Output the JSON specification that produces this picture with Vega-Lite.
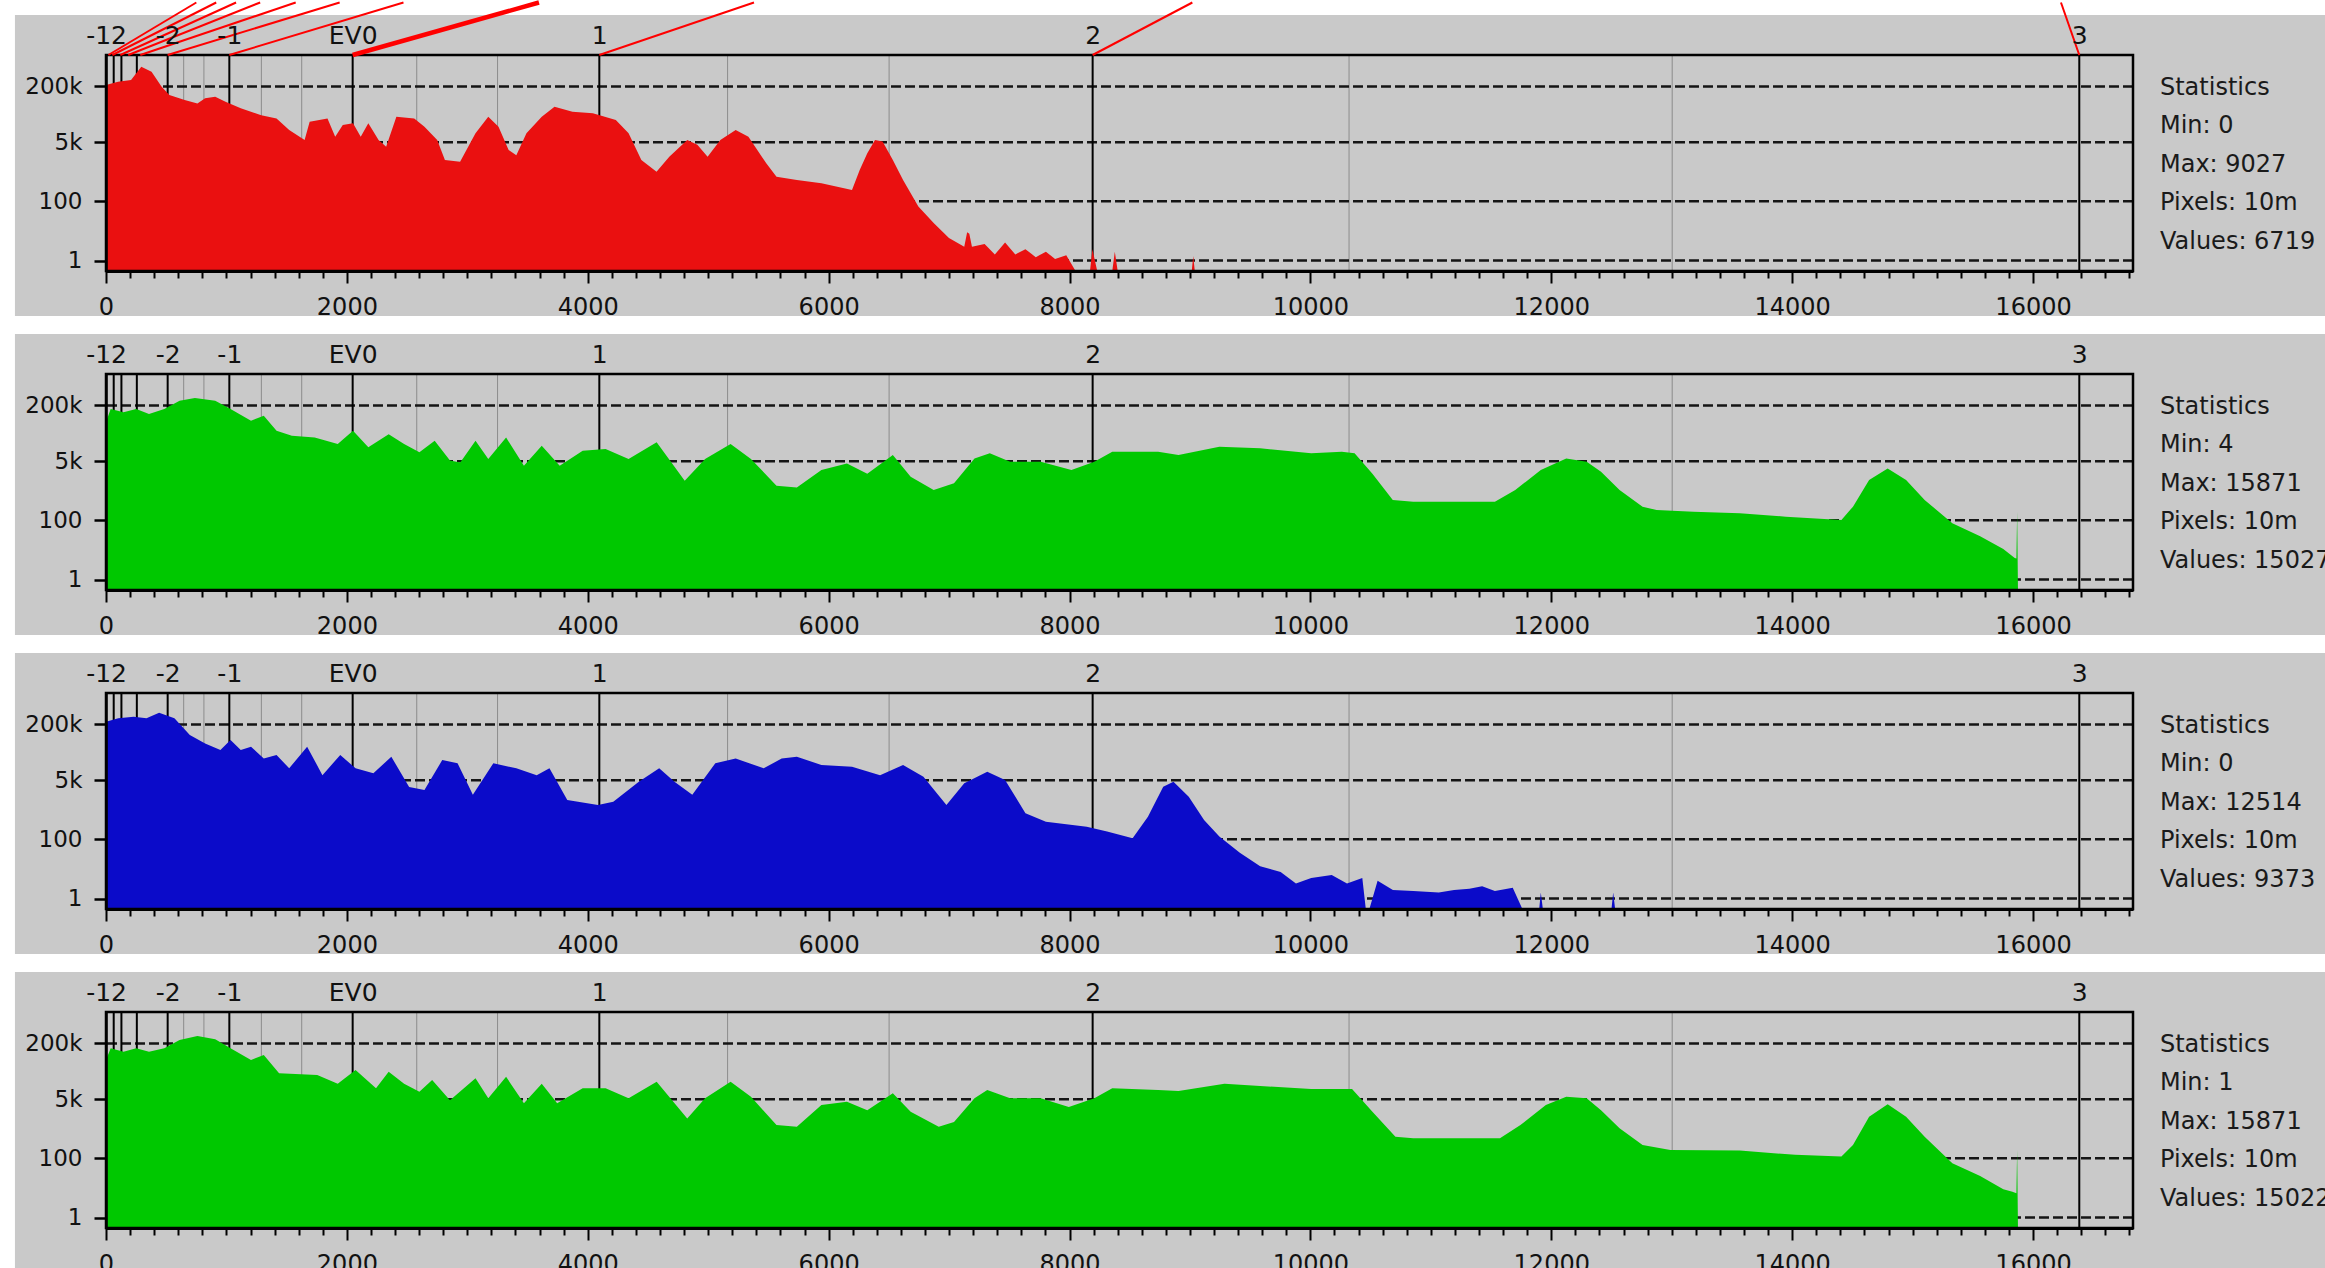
{
  "$schema": "https://vega.github.io/schema/vega-lite/v6.json",
  "background": "white",
  "padding": {"left": 14, "top": 0, "right": 0, "bottom": 0},
  "spacing": 103,
  "bounds": "flush",
  "config": {
    "view": {"stroke": null},
    "font": "DejaVu Sans",
    "axis": {"labelFont": "DejaVu Sans", "labelColor": "#111111", "domainColor": "#000000", "tickColor": "#000000", "grid": false}
  },
  "datasets": {
    "minor": [{"v": 645}, {"v": 813}, {"v": 1290}, {"v": 1625}, {"v": 2580}, {"v": 3251}, {"v": 5161}, {"v": 6502}, {"v": 10321}, {"v": 13004}],
    "ygrid": [{"v": 1}, {"v": 100}, {"v": 5000}, {"v": 200000}],
    "ev": [{"v": 64}, {"v": 128}, {"v": 256}, {"v": 512}, {"v": 1024}, {"v": 2048}, {"v": 4096}, {"v": 8192}, {"v": 16384}],
    "red": [
      {"stop": "-6", "from": 20, "to": 750},
      {"stop": "-5", "from": 53, "to": 915},
      {"stop": "-4", "from": 119, "to": 1080},
      {"stop": "-3b", "from": 185, "to": 1280},
      {"stop": "-3", "from": 285, "to": 1575},
      {"stop": "-2", "from": 512, "to": 1940},
      {"stop": "-1", "from": 1024, "to": 2470},
      {"stop": "EV0", "from": 2048, "to": 3595},
      {"stop": "1", "from": 4096, "to": 5380},
      {"stop": "2", "from": 8192, "to": 9020},
      {"stop": "3", "from": 16384, "to": 16232}
    ],
    "stats1": [{"t": "Statistics\nMin: 0\nMax: 9027\nPixels: 10m\nValues: 6719"}],
    "stats2": [{"t": "Statistics\nMin: 4\nMax: 15871\nPixels: 10m\nValues: 15027"}],
    "stats3": [{"t": "Statistics\nMin: 0\nMax: 12514\nPixels: 10m\nValues: 9373"}],
    "stats4": [{"t": "Statistics\nMin: 1\nMax: 15871\nPixels: 10m\nValues: 15022"}],
    "hist1": [
      {"x": 0, "c": 220000}, {"x": 100, "c": 273000}, {"x": 208, "c": 306000}, {"x": 293, "c": 737000}, {"x": 378, "c": 530000},
      {"x": 462, "c": 196000}, {"x": 526, "c": 113000}, {"x": 653, "c": 81000}, {"x": 759, "c": 65000}, {"x": 823, "c": 91000},
      {"x": 907, "c": 101000}, {"x": 992, "c": 73000}, {"x": 1119, "c": 47000}, {"x": 1289, "c": 30000}, {"x": 1416, "c": 24000},
      {"x": 1521, "c": 11200}, {"x": 1649, "c": 5800}, {"x": 1691, "c": 19400}, {"x": 1839, "c": 24000}, {"x": 1903, "c": 7200},
      {"x": 1966, "c": 15600}, {"x": 2051, "c": 17500}, {"x": 2115, "c": 7200}, {"x": 2178, "c": 17500}, {"x": 2263, "c": 5800},
      {"x": 2326, "c": 3700}, {"x": 2411, "c": 27000}, {"x": 2559, "c": 24000}, {"x": 2644, "c": 13900}, {"x": 2750, "c": 5800},
      {"x": 2814, "c": 1540}, {"x": 2940, "c": 1380}, {"x": 3068, "c": 9000}, {"x": 3174, "c": 27000}, {"x": 3259, "c": 13900},
      {"x": 3343, "c": 3000}, {"x": 3407, "c": 2100}, {"x": 3491, "c": 9000}, {"x": 3618, "c": 27000}, {"x": 3724, "c": 52000},
      {"x": 3873, "c": 37600}, {"x": 4042, "c": 33800}, {"x": 4233, "c": 21700}, {"x": 4339, "c": 9000}, {"x": 4445, "c": 1540},
      {"x": 4571, "c": 711}, {"x": 4677, "c": 1900}, {"x": 4826, "c": 5800}, {"x": 4910, "c": 4200}, {"x": 4995, "c": 1900},
      {"x": 5101, "c": 5800}, {"x": 5228, "c": 11200}, {"x": 5334, "c": 7200}, {"x": 5482, "c": 1240}, {"x": 5567, "c": 511},
      {"x": 5736, "c": 410}, {"x": 5940, "c": 330}, {"x": 6194, "c": 212}, {"x": 6258, "c": 795}, {"x": 6321, "c": 2400},
      {"x": 6385, "c": 5800}, {"x": 6448, "c": 5200}, {"x": 6533, "c": 1540}, {"x": 6618, "c": 410}, {"x": 6745, "c": 70},
      {"x": 6872, "c": 23}, {"x": 6999, "c": 7.8}, {"x": 7126, "c": 4}, {"x": 7150, "c": 12}, {"x": 7168, "c": 10.8},
      {"x": 7190, "c": 4}, {"x": 7295, "c": 5}, {"x": 7380, "c": 2}, {"x": 7465, "c": 5.6}, {"x": 7550, "c": 2},
      {"x": 7634, "c": 3.2}, {"x": 7720, "c": 1.5}, {"x": 7804, "c": 2.6}, {"x": 7880, "c": 1.2}, {"x": 7973, "c": 1.85},
      {"x": 8050, "c": 0}, {"x": 8170, "c": 0}, {"x": 8190, "c": 3.2}, {"x": 8230, "c": 0}, {"x": 8355, "c": 0},
      {"x": 8376, "c": 2.6}, {"x": 8400, "c": 0}, {"x": 9015, "c": 0}, {"x": 9027, "c": 1.7}, {"x": 9040, "c": 0}
    ],
    "hist2": [
      {"x": 0, "c": 67000}, {"x": 39, "c": 158000}, {"x": 145, "c": 127000}, {"x": 251, "c": 158000}, {"x": 357, "c": 113000},
      {"x": 484, "c": 158000}, {"x": 611, "c": 273000}, {"x": 738, "c": 327000}, {"x": 907, "c": 273000}, {"x": 1034, "c": 158000},
      {"x": 1204, "c": 73000}, {"x": 1310, "c": 101000}, {"x": 1416, "c": 37600}, {"x": 1543, "c": 27000}, {"x": 1733, "c": 24000},
      {"x": 1924, "c": 15600}, {"x": 2051, "c": 37600}, {"x": 2178, "c": 12500}, {"x": 2347, "c": 30000}, {"x": 2475, "c": 15600},
      {"x": 2602, "c": 9000}, {"x": 2729, "c": 19400}, {"x": 2856, "c": 5200}, {"x": 2941, "c": 4600}, {"x": 3068, "c": 19400},
      {"x": 3174, "c": 5800}, {"x": 3322, "c": 24000}, {"x": 3470, "c": 3700}, {"x": 3618, "c": 13900}, {"x": 3767, "c": 3700},
      {"x": 3958, "c": 10000}, {"x": 4148, "c": 11200}, {"x": 4339, "c": 5800}, {"x": 4572, "c": 17500}, {"x": 4805, "c": 1380},
      {"x": 4974, "c": 5800}, {"x": 5186, "c": 15600}, {"x": 5355, "c": 5800}, {"x": 5567, "c": 990}, {"x": 5736, "c": 880},
      {"x": 5940, "c": 2800}, {"x": 6152, "c": 4300}, {"x": 6321, "c": 2200}, {"x": 6533, "c": 7500}, {"x": 6681, "c": 1800},
      {"x": 6872, "c": 745}, {"x": 7041, "c": 1160}, {"x": 7211, "c": 6000}, {"x": 7338, "c": 8400}, {"x": 7507, "c": 4800},
      {"x": 7761, "c": 4800}, {"x": 8016, "c": 2800}, {"x": 8206, "c": 4800}, {"x": 8355, "c": 9400}, {"x": 8736, "c": 9400},
      {"x": 8905, "c": 7500}, {"x": 9244, "c": 13000}, {"x": 9583, "c": 11700}, {"x": 10007, "c": 8400}, {"x": 10261, "c": 9400},
      {"x": 10367, "c": 8400}, {"x": 10515, "c": 2200}, {"x": 10684, "c": 384}, {"x": 10854, "c": 340}, {"x": 11532, "c": 340},
      {"x": 11701, "c": 745}, {"x": 11913, "c": 2800}, {"x": 12124, "c": 6000}, {"x": 12294, "c": 4800}, {"x": 12413, "c": 2500},
      {"x": 12567, "c": 745}, {"x": 12758, "c": 247}, {"x": 12874, "c": 199}, {"x": 13181, "c": 177}, {"x": 13565, "c": 158},
      {"x": 13948, "c": 127}, {"x": 14409, "c": 102}, {"x": 14505, "c": 247}, {"x": 14639, "c": 1440}, {"x": 14793, "c": 3100},
      {"x": 14946, "c": 1440}, {"x": 15100, "c": 384}, {"x": 15330, "c": 82}, {"x": 15561, "c": 34}, {"x": 15753, "c": 14},
      {"x": 15848, "c": 7.3}, {"x": 15862, "c": 7}, {"x": 15868, "c": 177}, {"x": 15875, "c": 0}
    ],
    "hist3": [
      {"x": 0, "c": 240000}, {"x": 102, "c": 300000}, {"x": 230, "c": 333000}, {"x": 336, "c": 300000}, {"x": 441, "c": 434000},
      {"x": 568, "c": 300000}, {"x": 696, "c": 99000}, {"x": 823, "c": 57000}, {"x": 950, "c": 37000}, {"x": 1034, "c": 71000},
      {"x": 1119, "c": 37000}, {"x": 1204, "c": 46000}, {"x": 1310, "c": 21000}, {"x": 1416, "c": 26500}, {"x": 1521, "c": 11000},
      {"x": 1670, "c": 46000}, {"x": 1797, "c": 7000}, {"x": 1945, "c": 26500}, {"x": 2072, "c": 11000}, {"x": 2220, "c": 7900},
      {"x": 2369, "c": 23600}, {"x": 2517, "c": 3200}, {"x": 2644, "c": 2600}, {"x": 2792, "c": 19000}, {"x": 2919, "c": 15300},
      {"x": 3046, "c": 1900}, {"x": 3216, "c": 15300}, {"x": 3407, "c": 11000}, {"x": 3576, "c": 7000}, {"x": 3682, "c": 11000},
      {"x": 3830, "c": 1350}, {"x": 4085, "c": 970}, {"x": 4212, "c": 1200}, {"x": 4424, "c": 4500}, {"x": 4593, "c": 11000},
      {"x": 4720, "c": 4500}, {"x": 4868, "c": 1900}, {"x": 5059, "c": 15300}, {"x": 5228, "c": 21000}, {"x": 5461, "c": 11000},
      {"x": 5610, "c": 21000}, {"x": 5736, "c": 23600}, {"x": 5940, "c": 13700}, {"x": 6194, "c": 12200}, {"x": 6427, "c": 7000},
      {"x": 6618, "c": 13700}, {"x": 6787, "c": 6300}, {"x": 6978, "c": 970}, {"x": 7126, "c": 4100}, {"x": 7317, "c": 8800},
      {"x": 7465, "c": 5100}, {"x": 7634, "c": 560}, {"x": 7804, "c": 322}, {"x": 8143, "c": 231}, {"x": 8312, "c": 166},
      {"x": 8524, "c": 107}, {"x": 8651, "c": 448}, {"x": 8778, "c": 3250}, {"x": 8863, "c": 4500}, {"x": 8990, "c": 1680},
      {"x": 9117, "c": 360}, {"x": 9244, "c": 119}, {"x": 9414, "c": 40}, {"x": 9583, "c": 16}, {"x": 9753, "c": 10.6},
      {"x": 9880, "c": 4.4}, {"x": 10007, "c": 6.8}, {"x": 10177, "c": 8.5}, {"x": 10304, "c": 4.4}, {"x": 10431, "c": 6.8},
      {"x": 10460, "c": 0}, {"x": 10490, "c": 0}, {"x": 10558, "c": 5.5}, {"x": 10685, "c": 2.5}, {"x": 10854, "c": 2.3},
      {"x": 11066, "c": 2}, {"x": 11193, "c": 2.5}, {"x": 11320, "c": 2.8}, {"x": 11426, "c": 3.5}, {"x": 11532, "c": 2.3},
      {"x": 11680, "c": 3.1}, {"x": 11760, "c": 0}, {"x": 11900, "c": 0}, {"x": 11913, "c": 2}, {"x": 11930, "c": 0},
      {"x": 12500, "c": 0}, {"x": 12514, "c": 2}, {"x": 12530, "c": 0}
    ],
    "hist4": [
      {"x": 0, "c": 67000}, {"x": 39, "c": 145000}, {"x": 145, "c": 116000}, {"x": 251, "c": 145000}, {"x": 357, "c": 116000},
      {"x": 484, "c": 145000}, {"x": 611, "c": 250000}, {"x": 759, "c": 327000}, {"x": 907, "c": 265000}, {"x": 1034, "c": 145000},
      {"x": 1204, "c": 67000}, {"x": 1310, "c": 93000}, {"x": 1437, "c": 28000}, {"x": 1754, "c": 25000}, {"x": 1924, "c": 14000},
      {"x": 2072, "c": 34500}, {"x": 2242, "c": 10300}, {"x": 2347, "c": 30800}, {"x": 2475, "c": 14000}, {"x": 2602, "c": 8200},
      {"x": 2708, "c": 17800}, {"x": 2856, "c": 4700}, {"x": 3068, "c": 20000}, {"x": 3174, "c": 5300}, {"x": 3322, "c": 22000},
      {"x": 3470, "c": 3800}, {"x": 3618, "c": 14000}, {"x": 3746, "c": 3800}, {"x": 3958, "c": 10300}, {"x": 4148, "c": 10300},
      {"x": 4339, "c": 5300}, {"x": 4572, "c": 16000}, {"x": 4826, "c": 1400}, {"x": 4974, "c": 5300}, {"x": 5186, "c": 16000},
      {"x": 5355, "c": 5900}, {"x": 5567, "c": 908}, {"x": 5736, "c": 811}, {"x": 5940, "c": 3400}, {"x": 6152, "c": 4200},
      {"x": 6321, "c": 2400}, {"x": 6533, "c": 7400}, {"x": 6681, "c": 2200}, {"x": 6914, "c": 811}, {"x": 7041, "c": 1100},
      {"x": 7211, "c": 5300}, {"x": 7317, "c": 9200}, {"x": 7507, "c": 5300}, {"x": 7761, "c": 5300}, {"x": 7994, "c": 3000},
      {"x": 8206, "c": 5300}, {"x": 8355, "c": 10300}, {"x": 8736, "c": 9200}, {"x": 8905, "c": 8600}, {"x": 9287, "c": 14000},
      {"x": 9583, "c": 12000}, {"x": 10007, "c": 9800}, {"x": 10346, "c": 9800}, {"x": 10515, "c": 2200}, {"x": 10706, "c": 419},
      {"x": 10854, "c": 375}, {"x": 11574, "c": 375}, {"x": 11744, "c": 908}, {"x": 11955, "c": 3400}, {"x": 12124, "c": 5900},
      {"x": 12294, "c": 5300}, {"x": 12413, "c": 2400}, {"x": 12567, "c": 730}, {"x": 12758, "c": 242}, {"x": 12989, "c": 174},
      {"x": 13565, "c": 166}, {"x": 14025, "c": 125}, {"x": 14409, "c": 112}, {"x": 14505, "c": 242}, {"x": 14639, "c": 1570},
      {"x": 14793, "c": 3600}, {"x": 14946, "c": 1570}, {"x": 15100, "c": 419}, {"x": 15330, "c": 72}, {"x": 15561, "c": 30},
      {"x": 15753, "c": 12}, {"x": 15829, "c": 10}, {"x": 15862, "c": 9}, {"x": 15868, "c": 174}, {"x": 15875, "c": 0}
    ]
  },
  "vconcat": [
    {
      "width": 2027, "height": 216,
      "resolve": {"axis": {"x": "independent", "y": "independent"}},
      "layer": [
        {"data": {"values": [{}]}, "mark": {"type": "rect", "color": "#c9c9c9"},
         "encoding": {"x": {"datum": -756, "type": "quantitative", "scale": {"domain": [0, 16830], "nice": false, "zero": false}, "axis": null}, "x2": {"datum": 18432},
                      "y": {"datum": 22540000, "type": "quantitative", "scale": {"type": "symlog", "constant": 1, "domain": [0, 1600000], "nice": false}, "axis": null}, "y2": {"datum": -18.6}}},
        {"data": {"name": "minor"}, "mark": {"type": "rule", "color": "#8c8c8c", "strokeWidth": 1},
         "encoding": {"x": {"field": "v", "type": "quantitative", "scale": {"domain": [0, 16830], "nice": false, "zero": false}, "axis": null}}},
        {"data": {"name": "ygrid"}, "mark": {"type": "rule", "color": "#151515", "strokeWidth": 2.5, "strokeDash": [10, 4]},
         "encoding": {"y": {"field": "v", "type": "quantitative", "scale": {"type": "symlog", "constant": 1, "domain": [0, 1600000], "nice": false}, "axis": null}}},
        {"data": {"name": "ev"}, "mark": {"type": "rule", "color": "#000000", "strokeWidth": 2},
         "encoding": {"x": {"field": "v", "type": "quantitative", "scale": {"domain": [0, 16830], "nice": false, "zero": false},
           "axis": {"orient": "top", "zindex": 2, "title": null, "values": [0.5, 512, 1024, 2048, 4096, 8192, 16384], "labelExpr": "datum.value < 1 ? '-12' : datum.value == 512 ? '-2' : datum.value == 1024 ? '-1' : datum.value == 2048 ? 'EV0' : datum.value == 4096 ? '1' : datum.value == 8192 ? '2' : '3'", "ticks": false, "tickSize": 0, "domain": false, "labelPadding": 12, "labelFontSize": 25, "labelBaseline": "alphabetic", "labelFlush": false, "labelOverlap": false}}}},
        {"data": {"name": "hist1"}, "mark": {"type": "area", "color": "#ea1010", "interpolate": "linear"},
         "encoding": {"x": {"field": "x", "type": "quantitative", "scale": {"domain": [0, 16830], "nice": false, "zero": false},
           "axis": {"orient": "bottom", "zindex": 2, "title": null, "values": [0,200,400,600,800,1000,1200,1400,1600,1800,2000,2200,2400,2600,2800,3000,3200,3400,3600,3800,4000,4200,4400,4600,4800,5000,5200,5400,5600,5800,6000,6200,6400,6600,6800,7000,7200,7400,7600,7800,8000,8200,8400,8600,8800,9000,9200,9400,9600,9800,10000,10200,10400,10600,10800,11000,11200,11400,11600,11800,12000,12200,12400,12600,12800,13000,13200,13400,13600,13800,14000,14200,14400,14600,14800,15000,15200,15400,15600,15800,16000,16200,16400,16600,16800], "format": "d", "labelExpr": "datum.value % 2000 === 0 ? datum.label : ''", "labelOverlap": false, "labelFlush": false, "tickSize": {"condition": {"test": "datum.value % 2000 === 0", "value": 12}, "value": 7}, "tickWidth": 2, "domainWidth": 3, "labelFontSize": 24, "labelPadding": 12}},
           "y": {"field": "c", "type": "quantitative", "scale": {"type": "symlog", "constant": 1, "domain": [0, 1600000], "nice": false},
           "axis": {"zindex": 2, "title": null, "values": [1, 100, 5000, 200000], "format": "d", "labelExpr": "datum.value >= 1000 ? (datum.value / 1000) + 'k' : datum.label", "tickSize": 12, "tickWidth": 2.5, "domainWidth": 2.5, "labelFontSize": 23, "labelPadding": 12}}}},
        {"data": {"values": [{}]}, "mark": {"type": "rect", "filled": false, "color": "#000000", "strokeWidth": 2.5},
         "encoding": {"x": {"datum": 0, "type": "quantitative", "scale": {"domain": [0, 16830], "nice": false, "zero": false}, "axis": null}, "x2": {"datum": 16830},
                      "y": {"datum": 0, "type": "quantitative", "scale": {"type": "symlog", "constant": 1, "domain": [0, 1600000], "nice": false}, "axis": null}, "y2": {"datum": 1600000}}},
        {"data": {"name": "stats1"}, "mark": {"type": "text", "lineBreak": "\n", "lineHeight": 38.4, "align": "left", "baseline": "alphabetic", "fontSize": 24, "font": "DejaVu Sans", "color": "#1a1a1a"},
         "encoding": {"x": {"datum": 17054, "type": "quantitative", "scale": {"domain": [0, 16830], "nice": false, "zero": false}, "axis": null},
                      "y": {"datum": 113600, "type": "quantitative", "scale": {"type": "symlog", "constant": 1, "domain": [0, 1600000], "nice": false}, "axis": null},
                      "text": {"field": "t", "type": "nominal"}}},
        {"data": {"name": "red"}, "mark": {"type": "rule", "color": "#ff0000"},
         "encoding": {"x": {"field": "from", "type": "quantitative", "scale": {"domain": [0, 16830], "nice": false, "zero": false}, "axis": null}, "x2": {"field": "to"},
                      "y": {"datum": 1600000, "type": "quantitative", "scale": {"type": "symlog", "constant": 1, "domain": [0, 1600000], "nice": false}, "axis": null}, "y2": {"datum": 51550000},
                      "strokeWidth": {"condition": {"test": "datum.stop === 'EV0'", "value": 4.5}, "value": 2}}}
      ]
    },
    {
      "width": 2027, "height": 216,
      "resolve": {"axis": {"x": "independent", "y": "independent"}},
      "layer": [
        {"data": {"values": [{}]}, "mark": {"type": "rect", "color": "#c9c9c9"},
         "encoding": {"x": {"datum": -756, "type": "quantitative", "scale": {"domain": [0, 16830], "nice": false, "zero": false}, "axis": null}, "x2": {"datum": 18432},
                      "y": {"datum": 22540000, "type": "quantitative", "scale": {"type": "symlog", "constant": 1, "domain": [0, 1600000], "nice": false}, "axis": null}, "y2": {"datum": -18.6}}},
        {"data": {"name": "minor"}, "mark": {"type": "rule", "color": "#8c8c8c", "strokeWidth": 1},
         "encoding": {"x": {"field": "v", "type": "quantitative", "scale": {"domain": [0, 16830], "nice": false, "zero": false}, "axis": null}}},
        {"data": {"name": "ygrid"}, "mark": {"type": "rule", "color": "#151515", "strokeWidth": 2.5, "strokeDash": [10, 4]},
         "encoding": {"y": {"field": "v", "type": "quantitative", "scale": {"type": "symlog", "constant": 1, "domain": [0, 1600000], "nice": false}, "axis": null}}},
        {"data": {"name": "ev"}, "mark": {"type": "rule", "color": "#000000", "strokeWidth": 2},
         "encoding": {"x": {"field": "v", "type": "quantitative", "scale": {"domain": [0, 16830], "nice": false, "zero": false},
           "axis": {"orient": "top", "zindex": 2, "title": null, "values": [0.5, 512, 1024, 2048, 4096, 8192, 16384], "labelExpr": "datum.value < 1 ? '-12' : datum.value == 512 ? '-2' : datum.value == 1024 ? '-1' : datum.value == 2048 ? 'EV0' : datum.value == 4096 ? '1' : datum.value == 8192 ? '2' : '3'", "ticks": false, "tickSize": 0, "domain": false, "labelPadding": 12, "labelFontSize": 25, "labelBaseline": "alphabetic", "labelFlush": false, "labelOverlap": false}}}},
        {"data": {"name": "hist2"}, "mark": {"type": "area", "color": "#00c800", "interpolate": "linear"},
         "encoding": {"x": {"field": "x", "type": "quantitative", "scale": {"domain": [0, 16830], "nice": false, "zero": false},
           "axis": {"orient": "bottom", "zindex": 2, "title": null, "values": [0,200,400,600,800,1000,1200,1400,1600,1800,2000,2200,2400,2600,2800,3000,3200,3400,3600,3800,4000,4200,4400,4600,4800,5000,5200,5400,5600,5800,6000,6200,6400,6600,6800,7000,7200,7400,7600,7800,8000,8200,8400,8600,8800,9000,9200,9400,9600,9800,10000,10200,10400,10600,10800,11000,11200,11400,11600,11800,12000,12200,12400,12600,12800,13000,13200,13400,13600,13800,14000,14200,14400,14600,14800,15000,15200,15400,15600,15800,16000,16200,16400,16600,16800], "format": "d", "labelExpr": "datum.value % 2000 === 0 ? datum.label : ''", "labelOverlap": false, "labelFlush": false, "tickSize": {"condition": {"test": "datum.value % 2000 === 0", "value": 12}, "value": 7}, "tickWidth": 2, "domainWidth": 3, "labelFontSize": 24, "labelPadding": 12}},
           "y": {"field": "c", "type": "quantitative", "scale": {"type": "symlog", "constant": 1, "domain": [0, 1600000], "nice": false},
           "axis": {"zindex": 2, "title": null, "values": [1, 100, 5000, 200000], "format": "d", "labelExpr": "datum.value >= 1000 ? (datum.value / 1000) + 'k' : datum.label", "tickSize": 12, "tickWidth": 2.5, "domainWidth": 2.5, "labelFontSize": 23, "labelPadding": 12}}}},
        {"data": {"values": [{}]}, "mark": {"type": "rect", "filled": false, "color": "#000000", "strokeWidth": 2.5},
         "encoding": {"x": {"datum": 0, "type": "quantitative", "scale": {"domain": [0, 16830], "nice": false, "zero": false}, "axis": null}, "x2": {"datum": 16830},
                      "y": {"datum": 0, "type": "quantitative", "scale": {"type": "symlog", "constant": 1, "domain": [0, 1600000], "nice": false}, "axis": null}, "y2": {"datum": 1600000}}},
        {"data": {"name": "stats2"}, "mark": {"type": "text", "lineBreak": "\n", "lineHeight": 38.4, "align": "left", "baseline": "alphabetic", "fontSize": 24, "font": "DejaVu Sans", "color": "#1a1a1a"},
         "encoding": {"x": {"datum": 17054, "type": "quantitative", "scale": {"domain": [0, 16830], "nice": false, "zero": false}, "axis": null},
                      "y": {"datum": 113600, "type": "quantitative", "scale": {"type": "symlog", "constant": 1, "domain": [0, 1600000], "nice": false}, "axis": null},
                      "text": {"field": "t", "type": "nominal"}}}
      ]
    },
    {
      "width": 2027, "height": 216,
      "resolve": {"axis": {"x": "independent", "y": "independent"}},
      "layer": [
        {"data": {"values": [{}]}, "mark": {"type": "rect", "color": "#c9c9c9"},
         "encoding": {"x": {"datum": -756, "type": "quantitative", "scale": {"domain": [0, 16830], "nice": false, "zero": false}, "axis": null}, "x2": {"datum": 18432},
                      "y": {"datum": 22540000, "type": "quantitative", "scale": {"type": "symlog", "constant": 1, "domain": [0, 1600000], "nice": false}, "axis": null}, "y2": {"datum": -18.6}}},
        {"data": {"name": "minor"}, "mark": {"type": "rule", "color": "#8c8c8c", "strokeWidth": 1},
         "encoding": {"x": {"field": "v", "type": "quantitative", "scale": {"domain": [0, 16830], "nice": false, "zero": false}, "axis": null}}},
        {"data": {"name": "ygrid"}, "mark": {"type": "rule", "color": "#151515", "strokeWidth": 2.5, "strokeDash": [10, 4]},
         "encoding": {"y": {"field": "v", "type": "quantitative", "scale": {"type": "symlog", "constant": 1, "domain": [0, 1600000], "nice": false}, "axis": null}}},
        {"data": {"name": "ev"}, "mark": {"type": "rule", "color": "#000000", "strokeWidth": 2},
         "encoding": {"x": {"field": "v", "type": "quantitative", "scale": {"domain": [0, 16830], "nice": false, "zero": false},
           "axis": {"orient": "top", "zindex": 2, "title": null, "values": [0.5, 512, 1024, 2048, 4096, 8192, 16384], "labelExpr": "datum.value < 1 ? '-12' : datum.value == 512 ? '-2' : datum.value == 1024 ? '-1' : datum.value == 2048 ? 'EV0' : datum.value == 4096 ? '1' : datum.value == 8192 ? '2' : '3'", "ticks": false, "tickSize": 0, "domain": false, "labelPadding": 12, "labelFontSize": 25, "labelBaseline": "alphabetic", "labelFlush": false, "labelOverlap": false}}}},
        {"data": {"name": "hist3"}, "mark": {"type": "area", "color": "#0b0bc9", "interpolate": "linear"},
         "encoding": {"x": {"field": "x", "type": "quantitative", "scale": {"domain": [0, 16830], "nice": false, "zero": false},
           "axis": {"orient": "bottom", "zindex": 2, "title": null, "values": [0,200,400,600,800,1000,1200,1400,1600,1800,2000,2200,2400,2600,2800,3000,3200,3400,3600,3800,4000,4200,4400,4600,4800,5000,5200,5400,5600,5800,6000,6200,6400,6600,6800,7000,7200,7400,7600,7800,8000,8200,8400,8600,8800,9000,9200,9400,9600,9800,10000,10200,10400,10600,10800,11000,11200,11400,11600,11800,12000,12200,12400,12600,12800,13000,13200,13400,13600,13800,14000,14200,14400,14600,14800,15000,15200,15400,15600,15800,16000,16200,16400,16600,16800], "format": "d", "labelExpr": "datum.value % 2000 === 0 ? datum.label : ''", "labelOverlap": false, "labelFlush": false, "tickSize": {"condition": {"test": "datum.value % 2000 === 0", "value": 12}, "value": 7}, "tickWidth": 2, "domainWidth": 3, "labelFontSize": 24, "labelPadding": 12}},
           "y": {"field": "c", "type": "quantitative", "scale": {"type": "symlog", "constant": 1, "domain": [0, 1600000], "nice": false},
           "axis": {"zindex": 2, "title": null, "values": [1, 100, 5000, 200000], "format": "d", "labelExpr": "datum.value >= 1000 ? (datum.value / 1000) + 'k' : datum.label", "tickSize": 12, "tickWidth": 2.5, "domainWidth": 2.5, "labelFontSize": 23, "labelPadding": 12}}}},
        {"data": {"values": [{}]}, "mark": {"type": "rect", "filled": false, "color": "#000000", "strokeWidth": 2.5},
         "encoding": {"x": {"datum": 0, "type": "quantitative", "scale": {"domain": [0, 16830], "nice": false, "zero": false}, "axis": null}, "x2": {"datum": 16830},
                      "y": {"datum": 0, "type": "quantitative", "scale": {"type": "symlog", "constant": 1, "domain": [0, 1600000], "nice": false}, "axis": null}, "y2": {"datum": 1600000}}},
        {"data": {"name": "stats3"}, "mark": {"type": "text", "lineBreak": "\n", "lineHeight": 38.4, "align": "left", "baseline": "alphabetic", "fontSize": 24, "font": "DejaVu Sans", "color": "#1a1a1a"},
         "encoding": {"x": {"datum": 17054, "type": "quantitative", "scale": {"domain": [0, 16830], "nice": false, "zero": false}, "axis": null},
                      "y": {"datum": 113600, "type": "quantitative", "scale": {"type": "symlog", "constant": 1, "domain": [0, 1600000], "nice": false}, "axis": null},
                      "text": {"field": "t", "type": "nominal"}}}
      ]
    },
    {
      "width": 2027, "height": 216,
      "resolve": {"axis": {"x": "independent", "y": "independent"}},
      "layer": [
        {"data": {"values": [{}]}, "mark": {"type": "rect", "color": "#c9c9c9"},
         "encoding": {"x": {"datum": -756, "type": "quantitative", "scale": {"domain": [0, 16830], "nice": false, "zero": false}, "axis": null}, "x2": {"datum": 18432},
                      "y": {"datum": 22540000, "type": "quantitative", "scale": {"type": "symlog", "constant": 1, "domain": [0, 1600000], "nice": false}, "axis": null}, "y2": {"datum": -18.6}}},
        {"data": {"name": "minor"}, "mark": {"type": "rule", "color": "#8c8c8c", "strokeWidth": 1},
         "encoding": {"x": {"field": "v", "type": "quantitative", "scale": {"domain": [0, 16830], "nice": false, "zero": false}, "axis": null}}},
        {"data": {"name": "ygrid"}, "mark": {"type": "rule", "color": "#151515", "strokeWidth": 2.5, "strokeDash": [10, 4]},
         "encoding": {"y": {"field": "v", "type": "quantitative", "scale": {"type": "symlog", "constant": 1, "domain": [0, 1600000], "nice": false}, "axis": null}}},
        {"data": {"name": "ev"}, "mark": {"type": "rule", "color": "#000000", "strokeWidth": 2},
         "encoding": {"x": {"field": "v", "type": "quantitative", "scale": {"domain": [0, 16830], "nice": false, "zero": false},
           "axis": {"orient": "top", "zindex": 2, "title": null, "values": [0.5, 512, 1024, 2048, 4096, 8192, 16384], "labelExpr": "datum.value < 1 ? '-12' : datum.value == 512 ? '-2' : datum.value == 1024 ? '-1' : datum.value == 2048 ? 'EV0' : datum.value == 4096 ? '1' : datum.value == 8192 ? '2' : '3'", "ticks": false, "tickSize": 0, "domain": false, "labelPadding": 12, "labelFontSize": 25, "labelBaseline": "alphabetic", "labelFlush": false, "labelOverlap": false}}}},
        {"data": {"name": "hist4"}, "mark": {"type": "area", "color": "#00c800", "interpolate": "linear"},
         "encoding": {"x": {"field": "x", "type": "quantitative", "scale": {"domain": [0, 16830], "nice": false, "zero": false},
           "axis": {"orient": "bottom", "zindex": 2, "title": null, "values": [0,200,400,600,800,1000,1200,1400,1600,1800,2000,2200,2400,2600,2800,3000,3200,3400,3600,3800,4000,4200,4400,4600,4800,5000,5200,5400,5600,5800,6000,6200,6400,6600,6800,7000,7200,7400,7600,7800,8000,8200,8400,8600,8800,9000,9200,9400,9600,9800,10000,10200,10400,10600,10800,11000,11200,11400,11600,11800,12000,12200,12400,12600,12800,13000,13200,13400,13600,13800,14000,14200,14400,14600,14800,15000,15200,15400,15600,15800,16000,16200,16400,16600,16800], "format": "d", "labelExpr": "datum.value % 2000 === 0 ? datum.label : ''", "labelOverlap": false, "labelFlush": false, "tickSize": {"condition": {"test": "datum.value % 2000 === 0", "value": 12}, "value": 7}, "tickWidth": 2, "domainWidth": 3, "labelFontSize": 24, "labelPadding": 12}},
           "y": {"field": "c", "type": "quantitative", "scale": {"type": "symlog", "constant": 1, "domain": [0, 1600000], "nice": false},
           "axis": {"zindex": 2, "title": null, "values": [1, 100, 5000, 200000], "format": "d", "labelExpr": "datum.value >= 1000 ? (datum.value / 1000) + 'k' : datum.label", "tickSize": 12, "tickWidth": 2.5, "domainWidth": 2.5, "labelFontSize": 23, "labelPadding": 12}}}},
        {"data": {"values": [{}]}, "mark": {"type": "rect", "filled": false, "color": "#000000", "strokeWidth": 2.5},
         "encoding": {"x": {"datum": 0, "type": "quantitative", "scale": {"domain": [0, 16830], "nice": false, "zero": false}, "axis": null}, "x2": {"datum": 16830},
                      "y": {"datum": 0, "type": "quantitative", "scale": {"type": "symlog", "constant": 1, "domain": [0, 1600000], "nice": false}, "axis": null}, "y2": {"datum": 1600000}}},
        {"data": {"name": "stats4"}, "mark": {"type": "text", "lineBreak": "\n", "lineHeight": 38.4, "align": "left", "baseline": "alphabetic", "fontSize": 24, "font": "DejaVu Sans", "color": "#1a1a1a"},
         "encoding": {"x": {"datum": 17054, "type": "quantitative", "scale": {"domain": [0, 16830], "nice": false, "zero": false}, "axis": null},
                      "y": {"datum": 113600, "type": "quantitative", "scale": {"type": "symlog", "constant": 1, "domain": [0, 1600000], "nice": false}, "axis": null},
                      "text": {"field": "t", "type": "nominal"}}}
      ]
    }
  ]
}
